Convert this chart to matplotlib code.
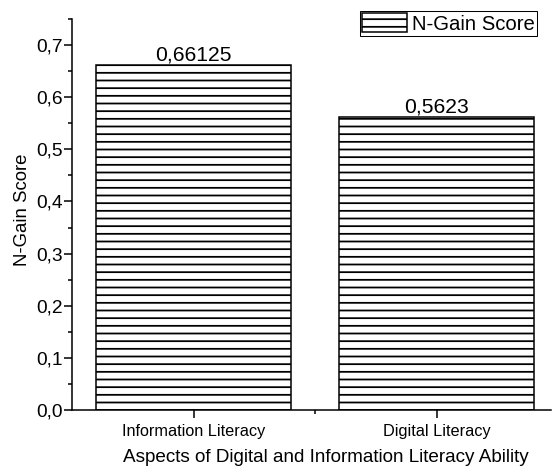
import matplotlib
matplotlib.use("Agg")
import matplotlib.pyplot as plt
from matplotlib.ticker import FuncFormatter, MultipleLocator, FixedLocator

categories = ["Information Literacy", "Digital Literacy"]
values = [0.66125, 0.5623]
value_labels = ["0,66125", "0,5623"]
series_name = "N-Gain Score"

plt.rcParams['font.family'] = ['Liberation Sans', 'DejaVu Sans']
plt.rcParams['hatch.linewidth'] = 1.4

W, H = 552, 471
fig = plt.figure(figsize=(6.0, H/92), dpi=92)
ax = fig.add_axes([72/W, 61/H, 479/W, 391/H])

x = list(range(len(categories)))
bars = ax.bar(x, values, width=0.8, color='white', edgecolor='black',
              linewidth=1.2, hatch='--', label=series_name)

for xi, v, lab in zip(x, values, value_labels):
    ax.annotate(lab, (xi, v), xytext=(0, 3.5), textcoords='offset points',
                ha='center', va='baseline', fontsize=16.5)

ax.set_xlim(-0.5, 1.47)
ax.set_ylim(0, 0.75)
ax.spines['top'].set_visible(False)
ax.spines['right'].set_visible(False)
ax.spines['left'].set_linewidth(1.2)
ax.spines['bottom'].set_linewidth(1.2)

ax.set_xticks(x)
ax.set_xticklabels(categories)
ax.xaxis.set_minor_locator(FixedLocator([0.5]))
ax.yaxis.set_major_locator(MultipleLocator(0.1))
ax.yaxis.set_minor_locator(MultipleLocator(0.05))
ax.yaxis.set_major_formatter(FuncFormatter(lambda v, p: f"{v:.1f}".replace('.', ',')))
ax.tick_params(axis='both', which='major', direction='out', length=6, width=1.2)
ax.tick_params(axis='y', which='major', labelsize=15, pad=1)
ax.tick_params(axis='x', which='major', labelsize=12.7, pad=5)
ax.tick_params(axis='both', which='minor', direction='out', length=3, width=1.2)

ax.set_xlabel("Aspects of Digital and Information Literacy Ability", fontsize=14.8)
ax.xaxis.set_label_coords((326 - 72) / 479, -(457 - 410) / 391)
ax.xaxis.label.set_va('center')
ax.set_ylabel("N-Gain Score", fontsize=14.6)
ax.yaxis.set_label_coords(-(72 - 23) / 479, (410 - 210) / 391)
ax.yaxis.label.set_va('center')

leg = ax.legend(loc='upper right', bbox_to_anchor=((537 - 72) / 479, (410 - 11) / 391),
                fontsize=15.9, frameon=True, fancybox=False, edgecolor='black',
                framealpha=1, handlelength=2.2, handleheight=1.05, borderpad=0.12,
                handletextpad=0.25, borderaxespad=0.0)
leg.get_frame().set_linewidth(0.8)

fig.savefig("out.png", dpi=92)
